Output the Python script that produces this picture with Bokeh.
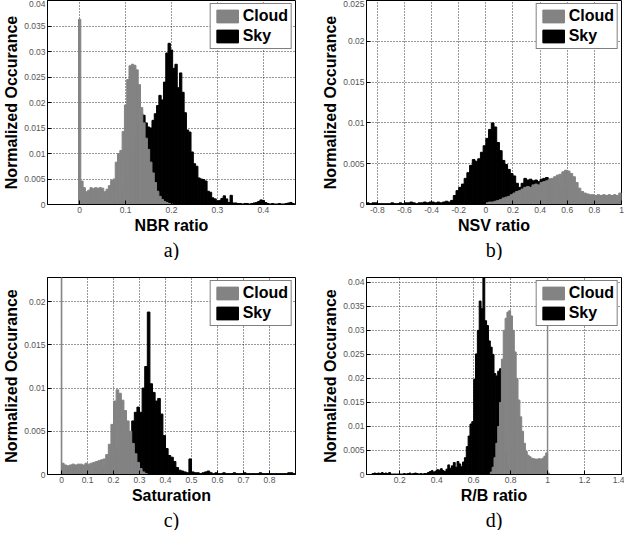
from bokeh.plotting import figure
from bokeh.layouts import column, row
from bokeh.models import (Range1d, FixedTicker, CustomJSTickFormatter, Legend,
                          LegendItem, Title)
from bokeh.embed import file_html
from bokeh.resources import INLINE

# ---------------- data ----------------
# a) NBR ratio  (bin width 0.005)
nbr_bin = 0.005
nbr_cloud_first = 0.0
nbr_cloud = [0.0363, 0.0046, 0.0033, 0.0025, 0.0028, 0.0033, 0.0031, 0.0033, 0.0032, 0.0033,
             0.0032, 0.0025, 0.0030, 0.0037, 0.0047, 0.0050, 0.0083, 0.0100, 0.0106, 0.0143,
             0.0195, 0.0245, 0.0272, 0.0275, 0.0273, 0.0264, 0.0235, 0.0190, 0.0160, 0.0130,
             0.0108, 0.0083, 0.0062, 0.0043, 0.0026, 0.0016, 0.0010, 0.0006, 0.0004, 0.0002,
             0.0001]
nbr_sky_first = 0.080
nbr_sky = [0.0005, 0.0010, 0.0020, 0.0030, 0.0045, 0.0060, 0.0080, 0.0100, 0.0120, 0.0140,
           0.0160, 0.0178, 0.0175, 0.0160, 0.0152, 0.0150, 0.0165, 0.0178, 0.0194, 0.0214,
           0.0205, 0.0240, 0.0297, 0.0316, 0.0303, 0.0267, 0.0275, 0.0229, 0.0258, 0.0220,
           0.0180, 0.0146, 0.0142, 0.0103, 0.0080, 0.0075, 0.0052, 0.0050, 0.0049, 0.0046,
           0.0026, 0.0024, 0.0013, 0.0011, 0.0007, 0.0008, 0.0012, 0.0017, 0.0011, 0.0004,
           0.0018, 0.0003, 0.0003, 0.0002, 0.0002, 0.0001, 0.0002, 0.0002, 0.0001, 0.0002,
           0.0003, 0.0004, 0.0006, 0.0009, 0.0008, 0.0004, 0.0002, 0.0001, 0.0002, 0.0001,
           0.0001, 0.0002, 0.0001, 0.0001, 0.0002, 0.0003, 0.0004, 0.0002]

# b) NSV ratio  (bin width 0.02)
nsv_bin = 0.02
nsv_sky_first = -0.87
nsv_sky = [0.0002, 0.0001, 0.0002, 0.0002, 0.0001, 0.0001, 0.0001, 0.0001, 0.0001, 0.0002,
           0.0001, 0.0001, 0.0002, 0.0001, 0.0002, 0.0002, 0.0003, 0.0002, 0.0001, 0.0002,
           0.0002, 0.0003, 0.0002, 0.0003, 0.0003, 0.0002, 0.0003, 0.0002, 0.0003, 0.0004,
           0.0003,
           0.0005, 0.0011, 0.0017, 0.0021, 0.0025, 0.0032, 0.0039, 0.0048, 0.0055, 0.0053,
           0.0056, 0.0064, 0.0072, 0.0081, 0.0092, 0.0100, 0.0095, 0.0076, 0.0066, 0.0054,
           0.0049, 0.0043, 0.0038, 0.0035, 0.0026, 0.0021, 0.0026, 0.0032, 0.0030, 0.0031,
           0.0029, 0.0030, 0.0028, 0.0031, 0.0032, 0.0033, 0.0031, 0.0029, 0.0027, 0.0025,
           0.0023, 0.0021, 0.0019, 0.0016, 0.0013, 0.0010, 0.0007, 0.0005, 0.0003, 0.0002,
           0.0002, 0.0001, 0.0002, 0.0001, 0.0001, 0.0002, 0.0001, 0.0001, 0.0002, 0.0001,
           0.0001, 0.0002, 0.0001]
nsv_cloud_first = 0.01
nsv_cloud = [0.0002, 0.0003, 0.0003, 0.0004, 0.0005, 0.0006, 0.0008, 0.0009, 0.0010, 0.0012,
             0.0014, 0.0016, 0.0017, 0.0019, 0.0021, 0.0022, 0.0021, 0.0024, 0.0025, 0.0024,
             0.0027, 0.0028, 0.0029, 0.0031, 0.0032, 0.0034, 0.0036, 0.0037, 0.0040, 0.0042,
             0.0041, 0.0038, 0.0034, 0.0027, 0.0020, 0.0016, 0.0014, 0.0013, 0.0012, 0.0012,
             0.0011, 0.0012, 0.0011, 0.0012, 0.0011, 0.0012, 0.0011, 0.0012, 0.0011, 0.0014]

# c) Saturation  (bin width 0.01)
sat_bin = 0.01
sat_cloud_first = 0.005
sat_cloud = [0.0013, 0.0011, 0.0010, 0.0011, 0.0012, 0.0011, 0.0012, 0.0012, 0.0011, 0.0013,
             0.0012, 0.0013, 0.0014, 0.0015, 0.0016, 0.0017, 0.0018, 0.0023, 0.0035, 0.0058,
             0.0085, 0.0098, 0.0094, 0.0086, 0.0074, 0.0062, 0.0050, 0.0036, 0.0024, 0.0014,
             0.0007, 0.0003, 0.0001]
sat_sky_first = 0.145
sat_sky = [0.0003, 0.0005, 0.0008, 0.0012, 0.0016, 0.0020, 0.0025, 0.0030, 0.0035, 0.0040,
           0.0045, 0.0050, 0.0049, 0.0062, 0.0072, 0.0078, 0.0072, 0.0100, 0.0125, 0.0188,
           0.0105, 0.0095, 0.0085, 0.0088, 0.0070, 0.0045, 0.0030, 0.0022, 0.0020, 0.0015,
           0.0008, 0.0005, 0.0004, 0.0003, 0.0002, 0.0018, 0.0003, 0.0002, 0.0002, 0.0001,
           0.0002, 0.0003, 0.0004, 0.0002, 0.0001, 0.0002, 0.0001, 0.0001, 0.0002, 0.0001,
           0.0001, 0.0001, 0.0002, 0.0001, 0.0001, 0.0001, 0.0002, 0.0001, 0.0001, 0.0001,
           0.0001, 0.0001, 0.0002, 0.0001, 0.0001, 0.0001, 0.0001, 0.0001, 0.0001, 0.0001,
           0.0001, 0.0001, 0.0001, 0.0002, 0.0002, 0.0001]
sat_spike_x = [0.0]          # cloud bin at 0, clipped by the axis
sat_spike = [0.03]

# d) R/B ratio  (bin width 0.01)
rb_bin = 0.01
rb_sky_first = 0.055
rb_sky = [0.0002, 0.0003, 0.0002, 0.0003, 0.0002, 0.0004, 0.0002, 0.0003, 0.0002, 0.0004,
          0.0001, 0.0001, 0.0001, 0.0001, 0.0001, 0.0001, 0.0001, 0.0002, 0.0001, 0.0002,
          0.0003, 0.0001, 0.0002, 0.0003, 0.0002, 0.0001, 0.0002, 0.0001, 0.0002, 0.0002,
          0.0004, 0.0006, 0.0008, 0.0005, 0.0007, 0.0010, 0.0009, 0.0012, 0.0008, 0.0006,
          0.0011, 0.0020, 0.0013, 0.0018, 0.0025, 0.0015, 0.0027, 0.0022, 0.0016, 0.0026,
          0.0035, 0.0058, 0.0080, 0.0105, 0.0110, 0.0198, 0.0251, 0.0300, 0.0361, 0.0345,
          0.0450, 0.0320, 0.0310, 0.0278, 0.0265, 0.0250, 0.0210, 0.0205, 0.0215, 0.0220,
          0.0150, 0.0090, 0.0045, 0.0020, 0.0010]
rb_cloud_first = 0.695
rb_cloud = [0.0005, 0.0015, 0.0035, 0.0065, 0.0100, 0.0150, 0.0240, 0.0300, 0.0325, 0.0338,
            0.0341, 0.0330, 0.0300, 0.0255, 0.0200, 0.0155, 0.0120, 0.0090, 0.0065, 0.0048,
            0.0040, 0.0037, 0.0034, 0.0033, 0.0032, 0.0032, 0.0033, 0.0032, 0.0034, 0.0038,
            0.0045, 0.0003]
rb_spike_x = [1.0]           # cloud bin at 1, clipped by the axis
rb_spike = [0.05]

# tick values
nbr_xticks = [0, 0.1, 0.2, 0.3, 0.4]
nbr_yticks = [0, 0.005, 0.01, 0.015, 0.02, 0.025, 0.03, 0.035, 0.04]
nsv_xticks = [-0.8, -0.6, -0.4, -0.2, 0, 0.2, 0.4, 0.6, 0.8, 1]
nsv_yticks = [0, 0.005, 0.01, 0.015, 0.02, 0.025]
sat_xticks = [0, 0.1, 0.2, 0.3, 0.4, 0.5, 0.6, 0.7, 0.8]
sat_yticks = [0, 0.005, 0.01, 0.015, 0.02]
rb_xticks = [0.2, 0.4, 0.6, 0.8, 1, 1.2, 1.4]
rb_yticks = [0, 0.005, 0.01, 0.015, 0.02, 0.025, 0.03, 0.035, 0.04]

# ---------------- styling ----------------
CLOUD = "#838383"
SKY = "#000000"
SANS = "Liberation Sans"
SERIF = "Liberation Serif"


def centers(first, width, n):
    return [first + i * width for i in range(n)]


def panel(w, h, borders, xr, yr, xticks, yticks, xlabel, caption,
          cloud, sky, spike=None):
    p = figure(width=w, height=h, x_range=Range1d(*xr), y_range=Range1d(*yr),
               output_backend="svg", toolbar_location=None,
               min_border_left=borders[0], min_border_right=borders[1],
               min_border_top=borders[2], min_border_bottom=borders[3],
               background_fill_color="white", border_fill_color="white")
    p.outline_line_color = "black"
    p.outline_line_width = 1

    fmt = CustomJSTickFormatter(code="return String(Math.round(tick*100000)/100000);")
    for ax, ticks in ((p.xaxis[0], xticks), (p.yaxis[0], yticks)):
        ax.ticker = FixedTicker(ticks=ticks)
        ax.formatter = fmt
        ax.major_tick_in = 4
        ax.major_tick_out = 0
        ax.minor_tick_line_color = None
        ax.axis_line_color = "black"
        ax.major_tick_line_color = "black"
        ax.major_label_text_font = SANS
        ax.major_label_text_font_size = "8.5px"
        ax.major_label_text_color = "#555555"
        ax.major_label_standoff = 2
        ax.axis_label_text_font = SANS
        ax.axis_label_text_font_size = "16px"
        ax.axis_label_text_font_style = "bold"
        ax.axis_label_text_color = "black"
        ax.axis_label_standoff = 1
    p.xaxis.axis_label = xlabel
    p.yaxis.axis_label = "Normalized Occurance"

    for g in (p.xgrid[0], p.ygrid[0]):
        g.grid_line_color = "black"
        g.grid_line_dash = "1 2"
        g.grid_line_alpha = 0.8
        g.grid_line_width = 1

    (sx, sw, sv) = sky
    (cx, cw, cv) = cloud
    r_sky = p.vbar(x=centers(sx, sw, len(sv)), width=sw, top=sv, bottom=0,
                   fill_color=SKY, line_color=SKY, line_width=1)
    r_cloud = p.vbar(x=centers(cx, cw, len(cv)), width=cw, top=cv, bottom=0,
                     fill_color=CLOUD, line_color=CLOUD, line_width=1)
    if spike is not None:
        p.vbar(x=spike[0], width=0.003, top=spike[1], bottom=0,
               fill_color=CLOUD, line_color=CLOUD, line_width=0.8)

    legend = Legend(items=[LegendItem(label="Cloud", renderers=[r_cloud]),
                           LegendItem(label="Sky", renderers=[r_sky])],
                    location="top_right")
    legend.label_text_font = SANS
    legend.label_text_font_size = "16px"
    legend.label_text_font_style = "bold"
    legend.label_text_color = "black"
    legend.glyph_width = 27
    legend.glyph_height = 16
    legend.label_height = 16
    legend.label_standoff = 2
    legend.padding = 3
    legend.spacing = 2
    legend.margin = 3
    legend.border_line_color = "black"
    legend.border_line_width = 1
    legend.background_fill_color = "white"
    legend.background_fill_alpha = 1
    p.add_layout(legend)

    cap = Title(text=caption, align="center", text_font=SERIF, text_font_size="20px",
                text_font_style="normal", text_color="black", standoff=0,
                text_line_height=0.7)
    p.add_layout(cap, "below")
    return p


pa = panel(310, 260, (38, 15, 0, 30), (-0.07, 0.47), (0, 0.04), nbr_xticks, nbr_yticks,
           "NBR ratio", "a)",
           (nbr_cloud_first, nbr_bin, nbr_cloud), (nbr_sky_first, nbr_bin, nbr_sky))
pb = panel(314, 260, (56, 3, 0, 30), (-0.88, 1.0), (0, 0.025), nsv_xticks, nsv_yticks,
           "NSV ratio", "b)",
           (nsv_cloud_first, nsv_bin, nsv_cloud), (nsv_sky_first, nsv_bin, nsv_sky))
pc = panel(310, 270, (38, 15, 17, 30), (-0.054, 0.9), (0, 0.0228), sat_xticks, sat_yticks,
           "Saturation", "c)",
           (sat_cloud_first, sat_bin, sat_cloud), (sat_sky_first, sat_bin, sat_sky),
           spike=(sat_spike_x, sat_spike))
pd_ = panel(314, 270, (56, 3, 17, 30), (0.02, 1.4), (0, 0.041), rb_xticks, rb_yticks,
            "R/B ratio", "d)",
            (rb_cloud_first, rb_bin, rb_cloud), (rb_sky_first, rb_bin, rb_sky),
            spike=(rb_spike_x, rb_spike))

layout = column(row(pa, pb), row(pc, pd_))
open("out.html", "w").write(file_html(layout, INLINE))
